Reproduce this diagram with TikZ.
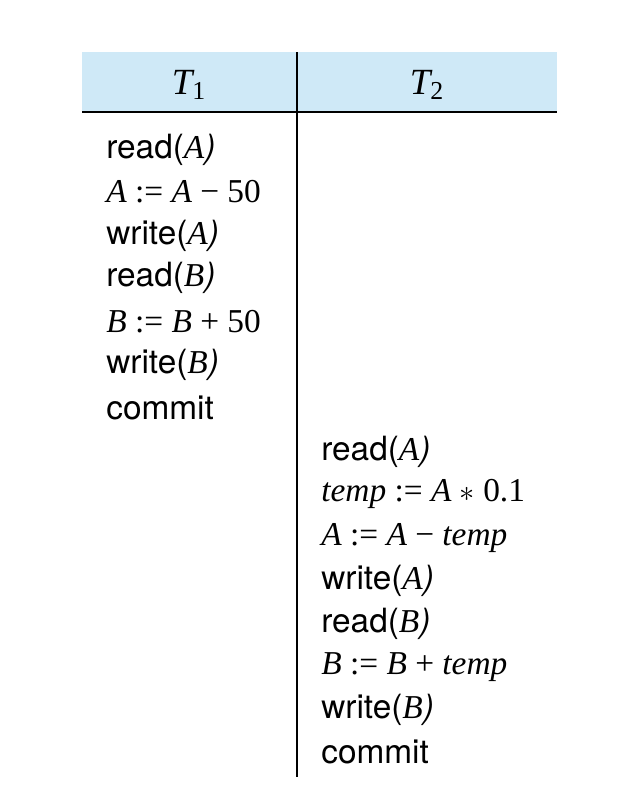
\documentclass[tikz,border=0pt]{standalone}
\usepackage{fontspec}
\setmainfont{Liberation Serif}
\setsansfont{TeX Gyre Heros}
\usetikzlibrary{positioning}
\definecolor{headblue}{HTML}{CFE9F7}
\newcommand{\op}[1]{\sffamily #1}
\newcommand{\vr}[1]{\rmfamily\itshape #1}
\newcommand{\nm}[1]{\rmfamily\upshape #1}

\begin{document}
\begin{tikzpicture}[x=0.02cm,y=-0.02cm,
    stmt/.style={anchor=west,inner sep=0pt,font=\fontsize{19}{23}\selectfont},
    head/.style={inner sep=0pt,font=\fontsize{21}{25}\selectfont\rmfamily\itshape}]
    \useasboundingbox (0,0) rectangle (632,788);

    % header band
    \fill[headblue] (82,52) rectangle (557,112);
    \draw[line width=0.8pt] (82,112) -- (557,112);
    \draw[line width=0.8pt] (297,52) -- (297,777);

    \node[head] (t1) at (189,85) {T\textsubscript{\upshape 1}};
    \node[head] (t2) at (427,85) {T\textsubscript{\upshape 2}};

    % T1
    \node[stmt] (a1) at (106,150) {\op{read(}\vr{A}\op{)}};
    \node[stmt] (a2) at (106,192) {\vr{A} \nm{:= }\vr{A} \nm{− 50}};
    \node[stmt] (a3) at (106,236) {\op{write(}\vr{A}\op{)}};
    \node[stmt] (a4) at (106,278) {\op{read(}\vr{B}\op{)}};
    \node[stmt] (a5) at (106,322) {\vr{B} \nm{:= }\vr{B} \nm{+ 50}};
    \node[stmt] (a6) at (106,365) {\op{write(}\vr{B}\op{)}};
    \node[stmt] (a7) at (106,408) {\op{commit}};

    % T2
    \node[stmt] (b1) at (321,452) {\op{read(}\vr{A}\op{)}};
    \node[stmt] (b2) at (321,494) {\vr{temp} \nm{:= }\vr{A} $\ast$ \nm{0.1}};
    \node[stmt] (b3) at (321,538) {\vr{A} \nm{:= }\vr{A} \nm{− }\vr{temp}};
    \node[stmt] (b4) at (321,581) {\op{write(}\vr{A}\op{)}};
    \node[stmt] (b5) at (321,624) {\op{read(}\vr{B}\op{)}};
    \node[stmt] (b6) at (321,667) {\vr{B} \nm{:= }\vr{B} \nm{+ }\vr{temp}};
    \node[stmt] (b7) at (321,710) {\op{write(}\vr{B}\op{)}};
    \node[stmt] (b8) at (321,752) {\op{commit}};
\end{tikzpicture}
\end{document}
